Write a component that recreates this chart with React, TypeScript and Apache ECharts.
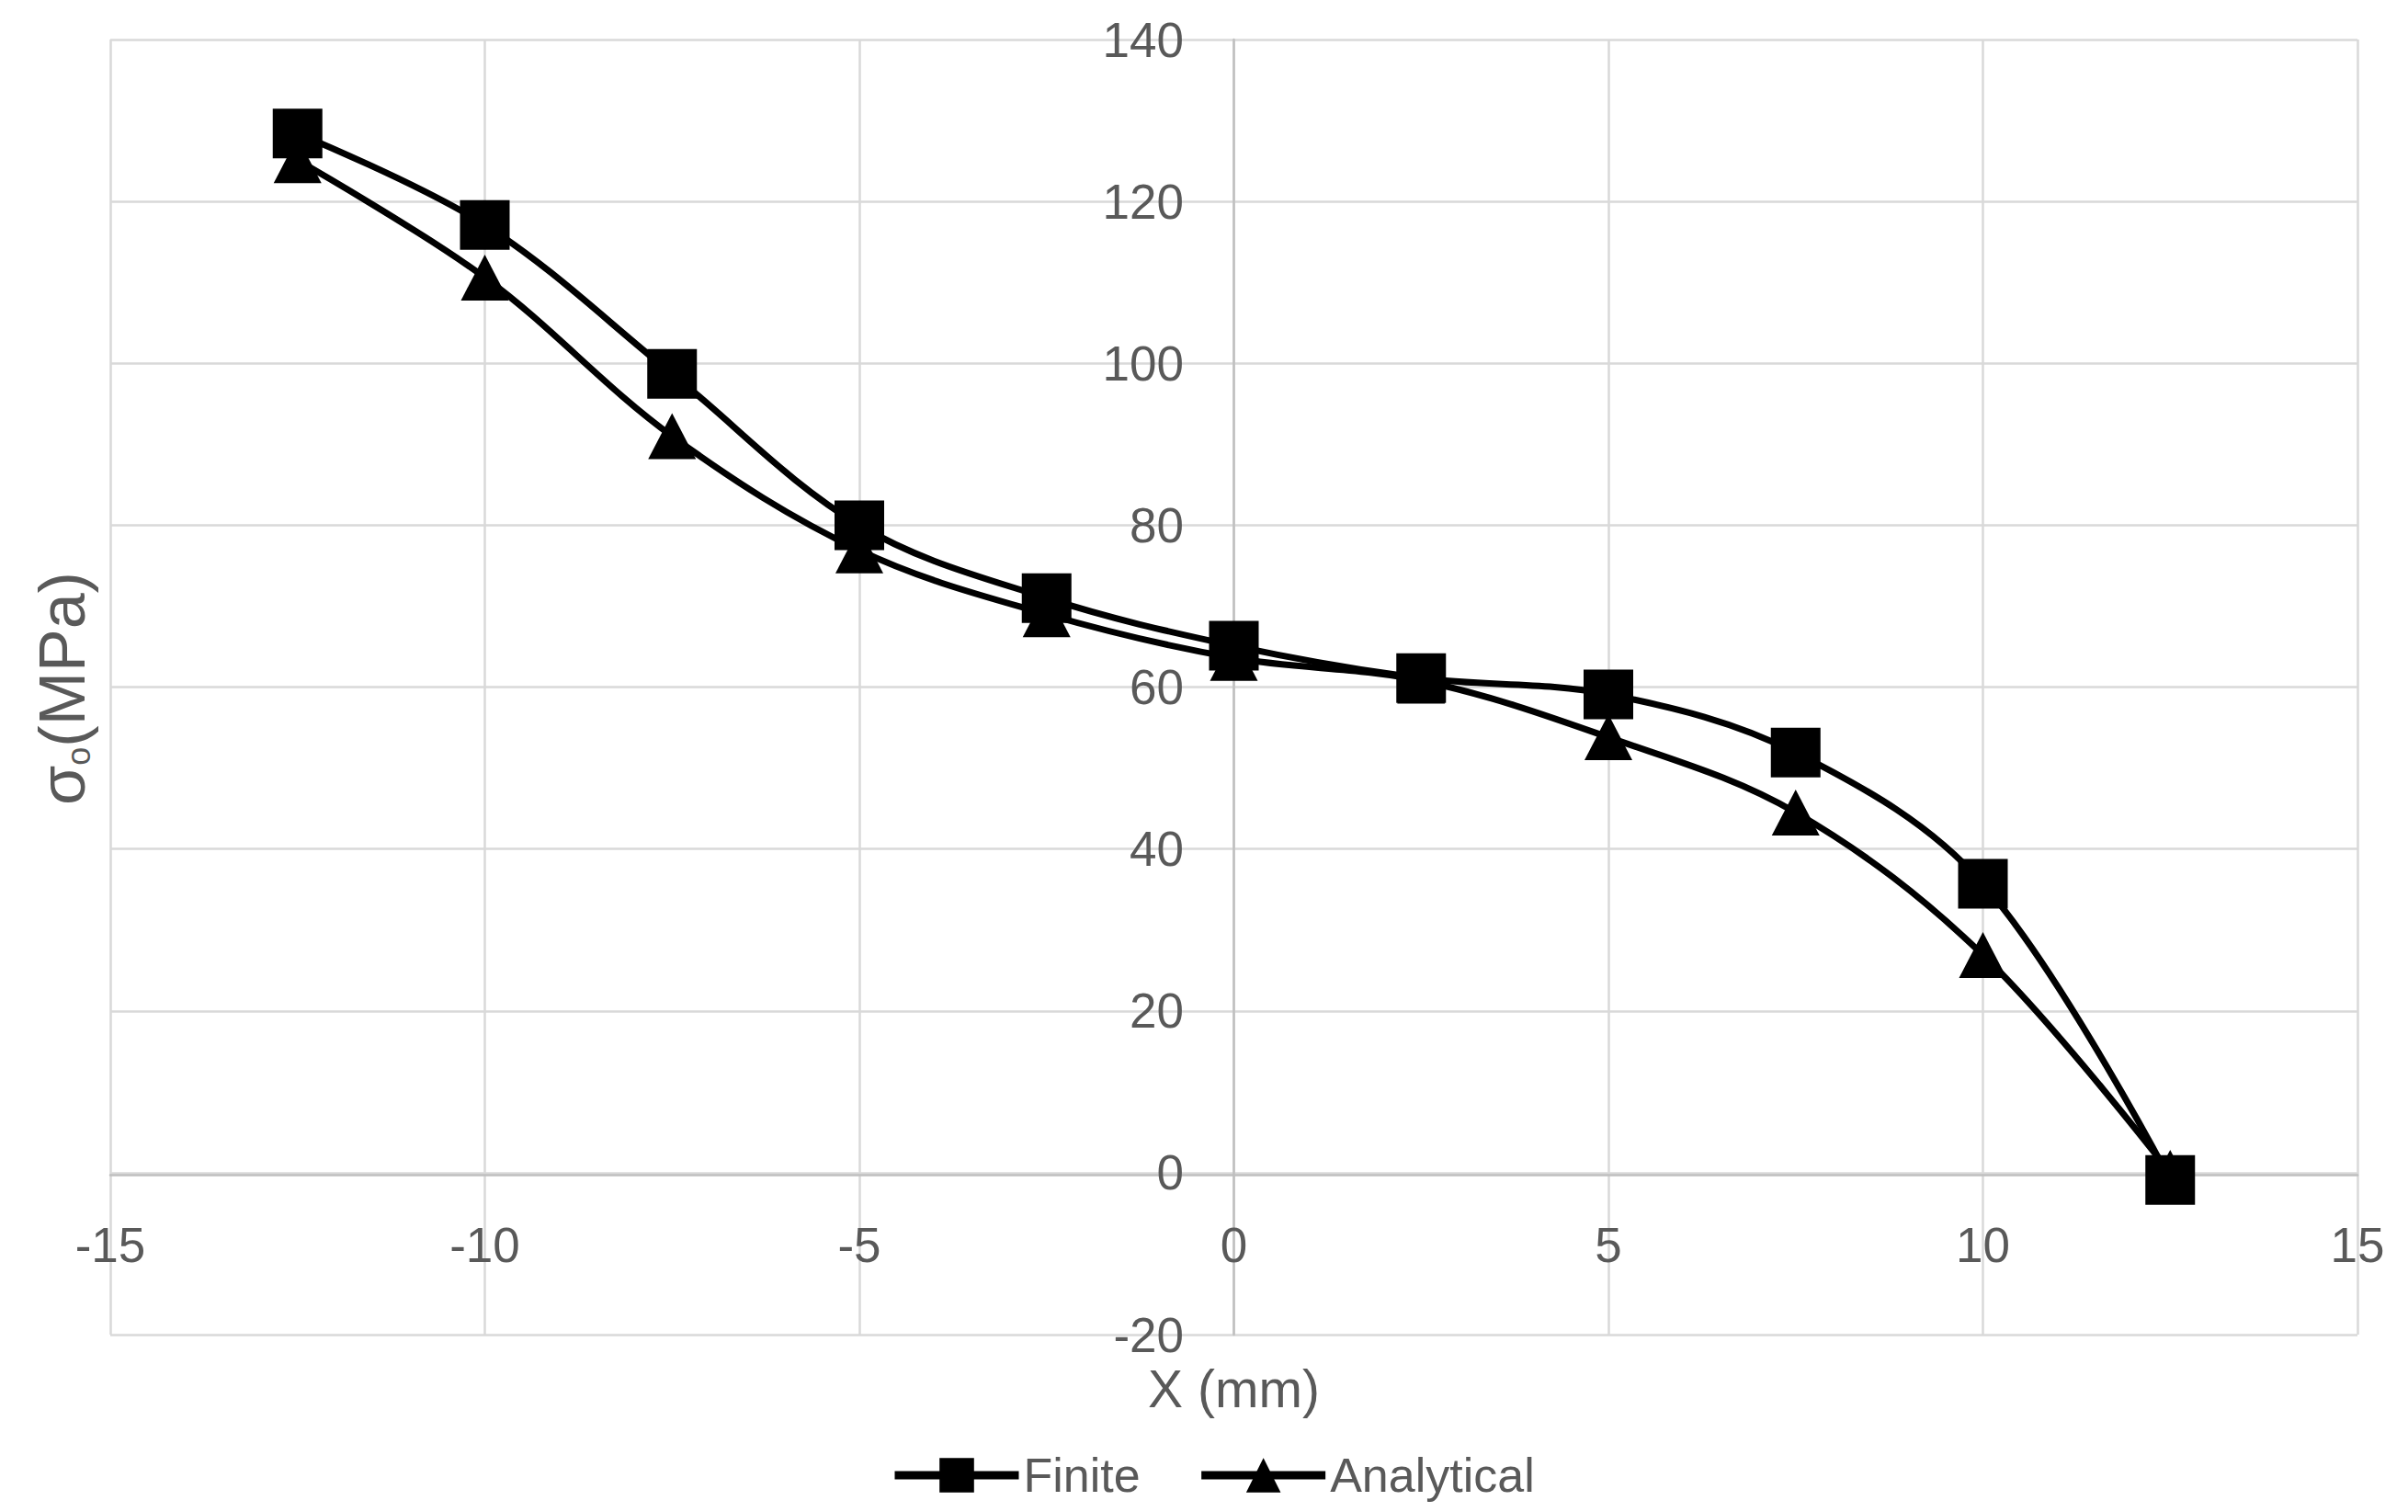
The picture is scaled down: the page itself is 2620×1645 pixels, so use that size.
import React, { useEffect, useRef } from "react";
import * as echarts from "echarts";

const xValues = [-12.5, -10, -7.5, -5, -2.5, 0, 2.5, 5, 7.5, 10, 12.5];
const finiteValues = [128.4, 117.1, 98.7, 80.0, 71.0, 65.1, 61.1, 59.1, 51.9, 35.7, -0.9];
const analyticalValues = [125.1, 110.6, 91.0, 76.9, 69.0, 63.6, 60.8, 53.8, 44.5, 26.9, 0];
const seriesNames = ["Finite", "Analytical"];
const xAxisTitle = "X (mm)";
const yTitleSymbol = "σ";
const yTitleSub = "o";
const yTitleUnit = "(MPa)";

const FONT = "'Liberation Sans', Arial, sans-serif";
const TEXT = "#595959";

export default function App() {
  const ref = useRef<HTMLDivElement>(null);
  useEffect(() => {
    const chart = echarts.init(ref.current!, null, { renderer: "svg" });
    chart.setOption({
      animation: false,
      backgroundColor: "#ffffff",
      textStyle: { fontFamily: FONT },
      grid: {
        left: 120,
        right: 55,
        top: 43,
        bottom: 193,
        containLabel: false,
        outerBoundsMode: "none",
      },
      xAxis: {
        type: "value",
        min: -15,
        max: 15,
        interval: 5,
        position: "bottom",
        offset: -174,
        axisLine: { onZero: false, lineStyle: { color: "#bfbfbf", width: 2.5 } },
        axisTick: { show: false },
        axisLabel: {
          fontSize: 53,
          color: TEXT,
          fontFamily: FONT,
          margin: 50,
          showMinLabel: true,
          showMaxLabel: true,
        },
        splitLine: { show: true, lineStyle: { color: "#d9d9d9", width: 2.5 } },
        name: xAxisTitle,
        nameLocation: "middle",
        nameGap: 204,
        nameMoveOverlap: false,
        nameTextStyle: { fontSize: 57, color: TEXT, fontFamily: FONT },
      },
      yAxis: {
        type: "value",
        min: -20,
        max: 140,
        interval: 20,
        position: "left",
        offset: -1222,
        axisLine: { onZero: false, lineStyle: { color: "#bfbfbf", width: 2.5 } },
        axisTick: { show: false },
        axisLabel: {
          fontSize: 53,
          color: TEXT,
          fontFamily: FONT,
          margin: 54,
          showMinLabel: true,
          showMaxLabel: true,
        },
        splitLine: { show: true, lineStyle: { color: "#d9d9d9", width: 2.5 } },
      },
      legend: {
        data: seriesNames,
        left: 964,
        top: 1574,
        itemWidth: 135,
        itemHeight: 47,
        itemGap: 62,
        lineStyle: { width: 9 },
        textStyle: { fontSize: 52, color: TEXT, fontFamily: FONT },
      },
      graphic: [
        {
          type: "text",
          x: 68,
          y: 749,
          rotation: Math.PI / 2,
          style: {
            text: `{a|${yTitleSymbol}}{b|${yTitleSub}}{a|${yTitleUnit}}`,
            align: "center",
            verticalAlign: "middle",
            fill: TEXT,
            rich: {
              a: { fontSize: 70, fontFamily: FONT, fill: TEXT },
              b: { fontSize: 36, fontFamily: FONT, fill: TEXT, verticalAlign: "bottom" },
            },
          },
        },
      ],
      series: [
        {
          name: seriesNames[0],
          type: "line",
          data: xValues.map((x, i) => [x, finiteValues[i]]),
          smooth: 0.35,
          symbol: "rect",
          symbolSize: 54,
          lineStyle: { color: "#000000", width: 7 },
          itemStyle: { color: "#000000" },
          z: 3,
        },
        {
          name: seriesNames[1],
          type: "line",
          data: xValues.map((x, i) => [x, analyticalValues[i]]),
          smooth: 0.35,
          symbol: "triangle",
          symbolSize: [52, 50],
          lineStyle: { color: "#000000", width: 7 },
          itemStyle: { color: "#000000" },
          z: 2,
        },
      ],
    });
    return () => chart.dispose();
  }, []);
  return (
    <div
      ref={ref}
      style={{ position: "fixed", left: 0, top: 0, width: 2620, height: 1645 }}
    />
  );
}
